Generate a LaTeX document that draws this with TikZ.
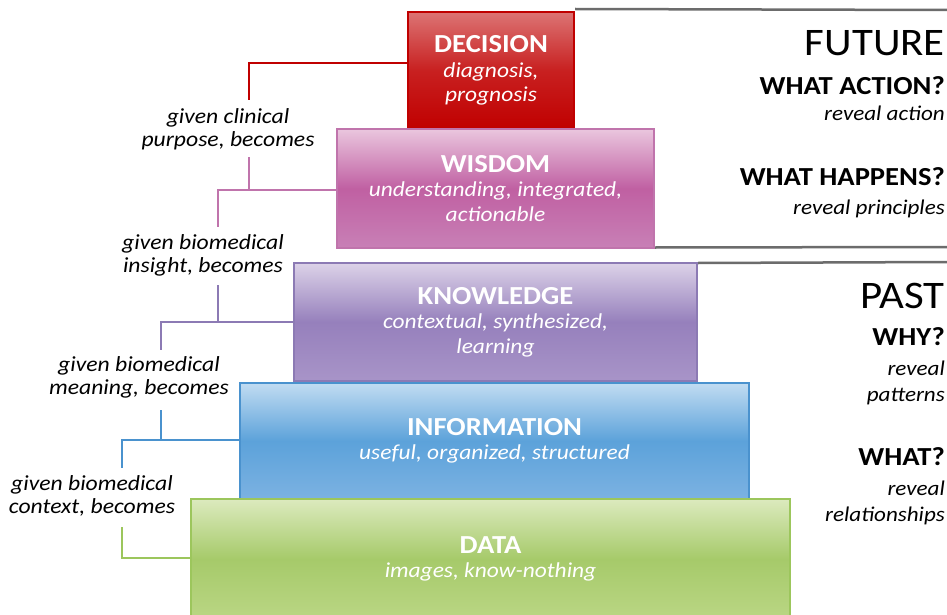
\documentclass[tikz,border=0pt]{standalone}
\usepackage{fontspec}
\setmainfont[FakeStretch=1.1]{Carlito}
\begin{document}
\begin{tikzpicture}[x=1pt,y=-1pt,
  box/.style={draw,line width=2pt,align=center,text=white,inner sep=0pt,
    font=\fontsize{21.3}{24.5}\selectfont},
  conn/.style={line width=2pt},
  sidelab/.style={align=center,font=\fontsize{21.5}{23}\selectfont\itshape,inner sep=0pt},
  rq/.style={anchor=base east,font=\fontsize{26}{28}\selectfont\bfseries,inner sep=0pt},
  rr/.style={anchor=base east,font=\fontsize{21}{24}\selectfont\itshape,inner sep=0pt},
  rbig/.style={anchor=base east,font=\fontsize{39}{44}\selectfont,inner sep=0pt},
  grayline/.style={draw=gray!85!black,line width=2.5pt}]
\definecolor{decB}{HTML}{C00000}
\definecolor{decT}{HTML}{DC7474}
\definecolor{decM}{HTML}{C82020}
\definecolor{wisB}{HTML}{C074AC}
\definecolor{wisT}{HTML}{EAC6DE}
\definecolor{wisM}{HTML}{C060A2}
\definecolor{wisD}{HTML}{C880B6}
\definecolor{kowB}{HTML}{8C7AB4}
\definecolor{kowT}{HTML}{DCD2E8}
\definecolor{kowM}{HTML}{9680BC}
\definecolor{kowD}{HTML}{A894C8}
\definecolor{infB}{HTML}{4A92CE}
\definecolor{infT}{HTML}{C2DCF2}
\definecolor{infM}{HTML}{5CA2DA}
\definecolor{infD}{HTML}{7CB2E2}
\definecolor{datB}{HTML}{9CC65C}
\definecolor{datT}{HTML}{DCEABE}
\definecolor{datM}{HTML}{A6CA6A}
\definecolor{datD}{HTML}{BAD684}
\useasboundingbox (0,0) rectangle (947,615);
\fill[white] (0,0) rectangle (947,615);

% gray separators
\coordinate (gA) at (947,10);
\coordinate (gB) at (947,247);
\coordinate (gC) at (947,262);

% boxes
\node[box,draw=decB,top color=decT,bottom color=decB,middle color=decM,
  minimum width=166pt,minimum height=117pt] (dec) at (491,70.5)
  {{\fontsize{26}{27}\selectfont\bfseries DECISION}\\\itshape diagnosis,\\\itshape prognosis};
\node[box,draw=wisB,top color=wisT,bottom color=wisD,middle color=wisM,
  minimum width=317pt,minimum height=119pt] (wis) at (495.5,188.5)
  {{\fontsize{26}{27}\selectfont\bfseries WISDOM}\\\itshape understanding, integrated,\\\itshape actionable};
\node[box,draw=kowB,top color=kowT,bottom color=kowD,middle color=kowM,
  minimum width=403pt,minimum height=118pt] (kow) at (495.5,322)
  {{\fontsize{26}{27}\selectfont\bfseries KNOWLEDGE}\\\itshape contextual, synthesized,\\\itshape learning};
\node[box,draw=infB,top color=infT,bottom color=infD,middle color=infM,
  minimum width=509pt,minimum height=117pt] (inf) at (494.5,441)
  {{\fontsize{26}{27}\selectfont\bfseries INFORMATION}\\\itshape useful, organized, structured};
\node[box,draw=datB,top color=datT,bottom color=datD,middle color=datM,
  minimum width=599pt,minimum height=120pt] (dat) at (490.5,559)
  {{\fontsize{26}{27}\selectfont\bfseries DATA}\\\itshape images, know-nothing};

\draw[grayline] ([yshift=2pt]dec.north east) -- (gA);
\draw[grayline] ([yshift=1.5pt]wis.south east) -- (gB);
\draw[grayline] ([yshift=-1pt]kow.north east) -- (gC);

% side labels
\node[sidelab] (l1) at (228,129) {given clinical\\purpose, becomes};
\node[sidelab] (l2) at (203,255) {given biomedical\\insight, becomes};
\node[sidelab] (l3) at (139,377) {given biomedical\\meaning, becomes};
\node[sidelab] (l4) at (92,496) {given biomedical\\context, becomes};

% connector coordinates
\coordinate (r1) at (249,100);
\coordinate (p0) at (249,157);
\coordinate (p1) at (249,190);
\coordinate (p2) at (218,227);
\coordinate (u0) at (218,285);
\coordinate (u1) at (218,322);
\coordinate (u2) at (161,350);
\coordinate (b0) at (161,410);
\coordinate (b1) at (161,440);
\coordinate (b2) at (122,468);
\coordinate (g0) at (122,527);

\draw[conn,decB] ([yshift=7.5pt]dec.west) -| (r1);
\draw[conn,wisB] ([yshift=-1.5pt]wis.west) -| (p2);
\draw[conn,wisB] (p0) -- (p1);
\draw[conn,kowB] (kow.west) -| (u2);
\draw[conn,kowB] (u0) -- (u1);
\draw[conn,infB] ([yshift=1pt]inf.west) -| (b2);
\draw[conn,infB] (b0) -- (b1);
\draw[conn,datB] ([yshift=1pt]dat.west) -| (g0);

% right-hand texts
\node[rbig] (fut) at (945,56) {FUTURE};
\node[rq] (q1) at (945,95) {WHAT ACTION?};
\node[rr] (a1) at (945,121) {reveal action};
\node[rq] (q2) at (945,185) {WHAT HAPPENS?};
\node[rr] (a2) at (945,214) {reveal principles};
\node[rbig] (pas) at (945,308) {PAST};
\node[rq] (q3) at (945,345) {WHY?};
\node[rr] (a3) at (945,375) {reveal};
\node[rr] (a3b) at (945,401) {patterns};
\node[rq] (q4) at (945,465) {WHAT?};
\node[rr] (a4) at (945,495) {reveal};
\node[rr] (a4b) at (945,521) {relationships};
\end{tikzpicture}
\end{document}
